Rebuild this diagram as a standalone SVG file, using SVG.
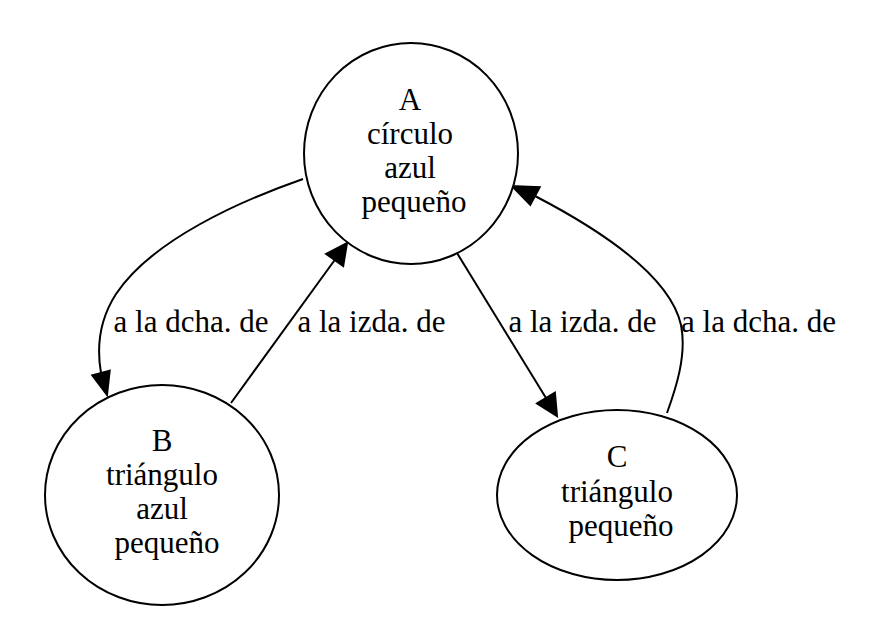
<svg xmlns="http://www.w3.org/2000/svg" width="883" height="623" viewBox="0 0 883 623">
<style>
.node ellipse{fill:#fff;stroke:#000;stroke-width:2}
text{font-family:'Liberation Serif','Times New Roman',serif;font-size:31px;fill:#000;text-anchor:middle}
.edge path{fill:none;stroke:#000;stroke-width:2}
.edge polygon{fill:#000;stroke:#000;stroke-width:2}
</style>
<rect width="883" height="623" fill="#fff"/>
<g id="connectors">
<g class="edge" id="e_A_B">
<path d="M303,179 C240,201 152,240 116,294 C98,322 97,350 101,373"/>
<polygon points="109.7,370.6 92.3,375.4 107,395"/>
<text x="191" y="332">a la dcha. de</text>
</g>
<g class="edge" id="e_B_A">
<path d="M231,403 L334.7,260"/>
<polygon points="326.2,253.9 343.2,266.1 347,243"/>
<text x="371.5" y="332">a la izda. de</text>
</g>
<g class="edge" id="e_A_C">
<path d="M457,253 L546,398"/>
<polygon points="537.1,403.4 554.9,392.6 557,416"/>
<text x="582.5" y="332">a la izda. de</text>
</g>
<g class="edge" id="e_C_A">
<path d="M667,413 C676,388 687,355 681,325 C671,280 610,235 535,196"/>
<polygon points="530.3,204.9 539.7,187.1 512,186"/>
<text x="758.5" y="332">a la dcha. de</text>
</g>
</g>
<g class="node" id="A">
<ellipse cx="411" cy="153.5" rx="107" ry="110.5"/>
<text x="410" y="110">A</text>
<text x="410" y="144">círculo</text>
<text x="410" y="178">azul</text>
<text x="414" y="212">pequeño</text>
</g>
<g class="node" id="B">
<ellipse cx="162" cy="495" rx="117" ry="110"/>
<text x="162" y="451">B</text>
<text x="162" y="485">triángulo</text>
<text x="162" y="519">azul</text>
<text x="167" y="553">pequeño</text>
</g>
<g class="node" id="C">
<ellipse cx="617" cy="495" rx="120" ry="85"/>
<text x="617" y="467">C</text>
<text x="617" y="502">triángulo</text>
<text x="621" y="536">pequeño</text>
</g>
</svg>
